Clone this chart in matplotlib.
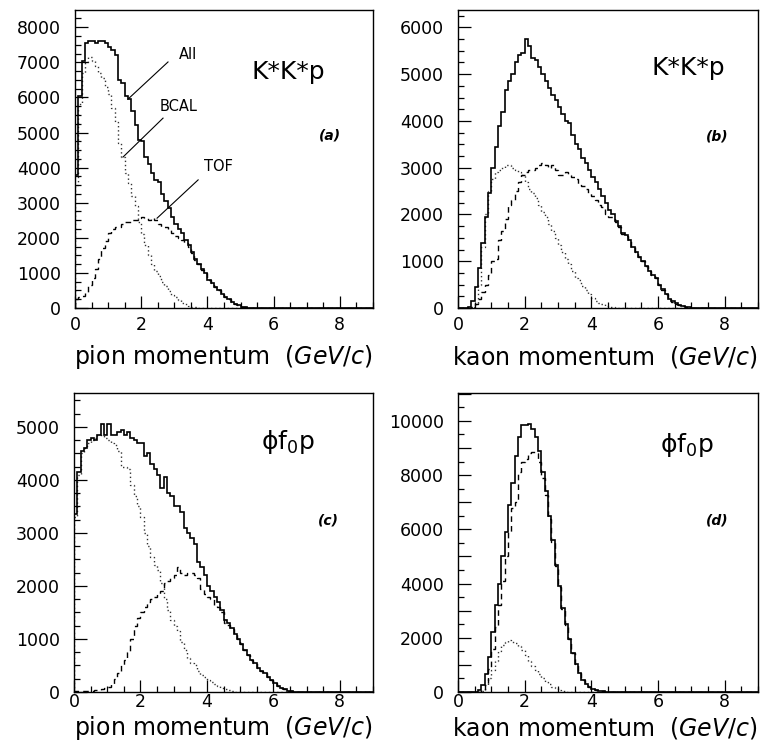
import numpy as np
import matplotlib
matplotlib.use("Agg")
import matplotlib.pyplot as plt
from matplotlib.ticker import MultipleLocator, FuncFormatter

plt.rcParams['font.family'] = 'DejaVu Sans'
plt.rcParams['mathtext.fontset'] = 'dejavusans'

# bin contents, 0.1 GeV/c bins starting at 0
a_all = [3800, 6050, 7050, 7550, 7600, 7600, 7550, 7620, 7600, 7550,
         7450, 7350, 7200, 6500, 6400, 6050, 5950, 5600, 5200, 4800,
         4750, 4300, 4100, 3850, 3650, 3600, 3250, 3050, 2850, 2600,
         2400, 2250, 2150, 1950, 1800, 1600, 1400, 1250, 1100, 1000,
         800, 700, 600, 500, 400, 320, 250, 180, 120, 80,
         40, 20, 10]
a_bcal = [3500, 5800, 6700, 7000, 7150, 7050, 6900, 6700, 6550, 6300,
          6100, 5700, 5300, 4700, 4300, 3850, 3550, 3200, 2900, 2450,
          2100, 1800, 1500, 1250, 1050, 900, 750, 620, 480, 380,
          300, 220, 150, 100, 60, 35, 15, 5]
a_tof = [250, 300, 330, 450, 650, 850, 1100, 1400, 1700, 1900,
         2150, 2250, 2300, 2300, 2400, 2450, 2450, 2500, 2500, 2550,
         2600, 2550, 2500, 2550, 2500, 2400, 2300, 2300, 2250, 2150,
         2050, 2000, 1950, 1850, 1750, 1560, 1380, 1240, 1095, 1000,
         800, 700, 600, 500, 400, 320, 250, 180, 120, 80,
         40, 20, 10]

b_all = [0, 0, 0, 30, 150, 450, 850, 1400, 1950, 2450,
         3000, 3450, 3900, 4200, 4650, 4850, 5000, 5250, 5400, 5450,
         5750, 5600, 5350, 5300, 5150, 5000, 4850, 4700, 4550, 4450,
         4300, 4150, 4000, 3950, 3700, 3500, 3400, 3200, 3100, 2950,
         2800, 2700, 2550, 2400, 2250, 2100, 2000, 1850, 1750, 1600,
         1550, 1450, 1300, 1200, 1100, 1000, 900, 800, 700, 650,
         500, 400, 300, 200, 140, 100, 70, 45, 30, 15,
         5]
b_bcal = [0, 0, 0, 0, 20, 100, 500, 1300, 2000, 2500,
          2750, 2900, 2950, 3000, 3050, 3050, 3000, 2950, 2900, 2850,
          2700, 2550, 2450, 2350, 2200, 2050, 1950, 1800, 1650, 1500,
          1350, 1200, 1050, 950, 800, 650, 600, 480, 380, 300,
          220, 160, 110, 80, 50, 30, 15, 8, 3]
b_tof = [0, 0, 0, 0, 30, 80, 200, 350, 500, 700,
         1000, 1050, 1450, 1650, 1900, 2200, 2300, 2500, 2700, 2850,
         2900, 2950, 2950, 3000, 3050, 3100, 3050, 3000, 3050, 2950,
         2850, 2850, 2900, 2850, 2800, 2750, 2650, 2600, 2550, 2450,
         2400, 2300, 2200, 2150, 2000, 1950, 1950, 1830, 1730, 1590,
         1540, 1440, 1295, 1195, 1095, 995, 895, 795, 695, 645,
         495, 395, 295, 195, 135, 95, 65, 40, 25, 10,
         3]

c_all = [3350, 4150, 4550, 4600, 4750, 4800, 4750, 4850, 5050, 4850,
         5050, 4850, 4850, 4900, 4950, 4850, 4900, 4800, 4750, 4700,
         4700, 4450, 4500, 4300, 4200, 4100, 3850, 4050, 3750, 3700,
         3500, 3500, 3400, 3100, 3000, 2900, 2800, 2450, 2350, 2200,
         2000, 1900, 1800, 1700, 1550, 1350, 1300, 1200, 1100, 1000,
         900, 800, 700, 600, 550, 450, 400, 350, 280, 220,
         170, 120, 80, 50, 25, 10]
c_bcal = [3300, 4100, 4500, 4600, 4700, 4750, 4800, 4850, 4850, 4800,
          4750, 4700, 4650, 4550, 4250, 4250, 4200, 3900, 3700, 3500,
          3300, 3000, 2750, 2550, 2400, 2300, 2050, 1750, 1550, 1350,
          1250, 1150, 950, 800, 650, 550, 500, 400, 330, 280,
          230, 180, 150, 110, 80, 50, 30, 10]
c_tof = [10, 10, 15, 15, 20, 25, 30, 40, 50, 80,
         100, 150, 250, 350, 500, 600, 750, 1000, 1250, 1400,
         1500, 1600, 1700, 1750, 1800, 1850, 1900, 2050, 2100, 2150,
         2200, 2350, 2250, 2200, 2250, 2250, 2200, 2150, 1950, 1850,
         1800, 1750, 1650, 1600, 1500, 1300, 1270, 1190, 1100, 1000,
         900, 800, 700, 600, 550, 450, 400, 350, 280, 220,
         170, 120, 80, 50, 25, 10]

d_all = [0, 0, 0, 0, 0, 0, 60, 250, 650, 1300,
         2200, 3200, 4000, 5000, 5900, 6900, 7700, 8700, 9400, 9850,
         9850, 9900, 9700, 9400, 8900, 8100, 7400, 6500, 5600, 4700,
         3900, 3100, 2500, 1950, 1450, 1050, 700, 450, 300, 200,
         120, 80, 50, 30, 15, 8, 4]
d_bcal = [0, 0, 0, 0, 0, 0, 0, 50, 250, 500,
          800, 1150, 1500, 1750, 1850, 1900, 1850, 1800, 1700, 1550,
          1350, 1150, 950, 800, 650, 500, 380, 280, 200, 130,
          80, 40, 15, 5]
d_tof = [0, 0, 0, 0, 0, 0, 10, 80, 350, 850,
         1600, 2400, 3200, 4100, 5000, 5900, 6800, 7000, 8100, 8500,
         8600, 8800, 8850, 8800, 8500, 7900, 7250, 6400, 5530, 4650,
         3860, 3070, 2480, 1940, 1440, 1045, 698, 448, 299, 199,
         119, 79, 49, 29, 14, 7, 3]

edges = np.round(np.arange(0, 9.0001, 0.1), 1)


def full(vals):
    return np.array(vals + [0] * (len(edges) - 1 - len(vals)), dtype=float)


phi_title = 'ϕf$_{0}$p'
panels = [
    dict(pos=[0.098, 0.5888, 0.3895, 0.3978], h=(a_all, a_bcal, a_tof), ymax=8490,
         minor=250, lab_every=1000, title='K*K*p', tag='(a)', xlabel='pion',
         tpos=(0.715, 0.792), gpos=(0.856, 0.58), xlpos=-0.165, xpad=6),
    dict(pos=[0.5987, 0.5888, 0.392, 0.3978], h=(b_all, b_bcal, b_tof), ymax=6370,
         minor=250, lab_every=1000, title='K*K*p', tag='(b)', xlabel='kaon',
         tpos=(0.767, 0.805), gpos=(0.863, 0.574), xlpos=-0.165, xpad=6),
    dict(pos=[0.0967, 0.0761, 0.391, 0.3992], h=(c_all, c_bcal, c_tof), ymax=5640,
         minor=250, lab_every=1000, title=phi_title, tag='(c)', xlabel='pion',
         tpos=(0.716, 0.836), gpos=(0.85, 0.575), xlpos=-0.12, xpad=1),
    dict(pos=[0.5987, 0.0761, 0.392, 0.3992], h=(d_all, d_bcal, d_tof), ymax=11030,
         minor=500, lab_every=2000, title=phi_title, tag='(d)', xlabel='kaon',
         tpos=(0.763, 0.826), gpos=(0.863, 0.575), xlpos=-0.12, xpad=1),
]

fig = plt.figure(figsize=(7.65, 7.49), dpi=100)

for p in panels:
    ax = fig.add_axes(p['pos'])
    h_all, h_bcal, h_tof = p['h']
    ax.stairs(full(h_bcal), edges, color='#333333', lw=1.0, linestyle=(0, (1, 2)))
    ax.stairs(full(h_tof), edges, color='black', lw=1.0, linestyle=(0, (4, 3)))
    ax.stairs(full(h_all), edges, color='black', lw=1.2)
    ax.set_xlim(0, 9)
    ax.set_ylim(0, p['ymax'])

    ax.xaxis.set_major_locator(MultipleLocator(2))
    ax.xaxis.set_minor_locator(MultipleLocator(0.5))
    ax.yaxis.set_major_locator(MultipleLocator(1000))
    ax.yaxis.set_minor_locator(MultipleLocator(p['minor']))
    every = p['lab_every']
    ax.yaxis.set_major_formatter(FuncFormatter(
        lambda v, pos, e=every: f'{int(round(v))}' if round(v) % e == 0 else ''))
    ax.tick_params(which='both', direction='in', top=False, right=False,
                   labelsize=12.5, width=0.9)
    ax.tick_params(which='major', length=9)
    ax.tick_params(which='minor', length=4.5)
    ax.tick_params(axis='y', pad=10)
    ax.tick_params(axis='x', pad=p['xpad'])
    for s in ax.spines.values():
        s.set_linewidth(1.0)

    ax.text(p['tpos'][0], p['tpos'][1], p['title'], transform=ax.transAxes,
            fontsize=18, ha='center', va='center')
    ax.text(p['gpos'][0], p['gpos'][1], p['tag'], transform=ax.transAxes,
            fontsize=10, ha='center', va='center', style='italic', weight='bold')
    ax.text(1.0, p['xlpos'], p['xlabel'] + r' momentum  $\mathit{(GeV/c)}$',
            transform=ax.transAxes, fontsize=17, ha='right', va='center')

    if p['tag'] == '(a)':
        for name, start, end in [('All', (1.60, 5950), (2.81, 7010)),
                                 ('BCAL', (1.45, 4300), (2.66, 5410)),
                                 ('TOF', (2.48, 2560), (3.72, 3650))]:
            ax.plot([start[0], end[0]], [start[1], end[1]], color='black', lw=0.8)
        ax.text(3.41, 7210, 'All', fontsize=10.5, ha='center', va='center')
        ax.text(3.14, 5730, 'BCAL', fontsize=10.5, ha='center', va='center')
        ax.text(4.32, 4020, 'TOF', fontsize=10.5, ha='center', va='center')

fig.savefig('out.png', dpi=100)
